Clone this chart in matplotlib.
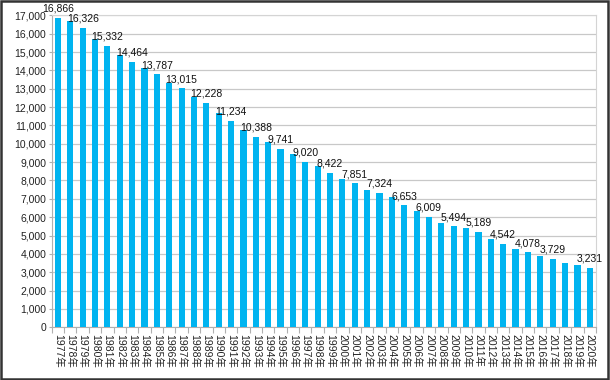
import numpy as np
import matplotlib
matplotlib.use('Agg')
import matplotlib.pyplot as plt
from matplotlib.patches import Rectangle
from matplotlib.ticker import FuncFormatter, MultipleLocator

plt.rcParams['font.family'] = ['Liberation Sans', 'Noto Sans CJK JP', 'DejaVu Sans']

# %% data
years = list(range(1977, 2021))
values = [16866, 16700, 16326, 15690, 15332, 14840, 14464, 14110, 13787, 13330,
          13015, 12570, 12228, 11690, 11234, 10750, 10388, 10115, 9741, 9450,
          9020, 8790, 8422, 8100, 7851, 7480, 7324, 7080, 6653, 6340,
          6009, 5710, 5494, 5430, 5189, 4800, 4542, 4290, 4078, 3890,
          3729, 3530, 3380, 3231]
labeled_years = list(range(1977, 2018, 2)) + [2020]
tick_labels = [f'{y}年' for y in years]

bar_color = '#00b4f0'
grid_color = '#c8c8c8'

# %% plot
fig = plt.figure(figsize=(6.1, 3.8), dpi=100)
ax = fig.add_axes([0.0848, 0.1387, 0.977 - 0.0848, 0.9597 - 0.1387])

x = np.arange(len(years))
ax.bar(x, values, width=0.5, color=bar_color, zorder=3)

for i, (yr, v) in enumerate(zip(years, values)):
    if yr in labeled_years:
        ax.annotate(f'{v:,}', (i, v), xytext=(0, 3), textcoords='offset points',
                    ha='center', va='bottom', fontsize=7.5, color='#111111',
                    zorder=5, annotation_clip=False)

ax.set_xlim(-0.5, len(years) - 0.5)
ax.set_ylim(0, 17000)
ax.yaxis.set_major_locator(MultipleLocator(1000))
ax.yaxis.set_major_formatter(FuncFormatter(lambda v, p: f'{int(v):,}'))
ax.grid(axis='y', color=grid_color, linewidth=0.9, zorder=0)

ax.set_xticks(x)
ax.set_xticklabels(tick_labels, rotation=-90, fontsize=7.5, color='#222222')
ax.set_xticks(np.arange(-0.5, len(years), 1), minor=True)
ax.tick_params(axis='x', which='major', length=0, pad=5)
ax.tick_params(axis='x', which='minor', length=4, color='#b0b0b0', width=0.8)
ax.tick_params(axis='y', length=2, color='#b0b0b0', labelsize=7.5,
               labelcolor='#222222', pad=2)

for side in ['top', 'right']:
    ax.spines[side].set_color('#d4d4d4')
for side in ['left', 'bottom']:
    ax.spines[side].set_color('#b0b0b0')

# outer frame of the image
fig.patches.append(Rectangle((0.002, 0.003), 0.994, 0.994, transform=fig.transFigure,
                             fill=False, edgecolor='#333333', linewidth=1.8))

fig.savefig('out.png', dpi=100)
